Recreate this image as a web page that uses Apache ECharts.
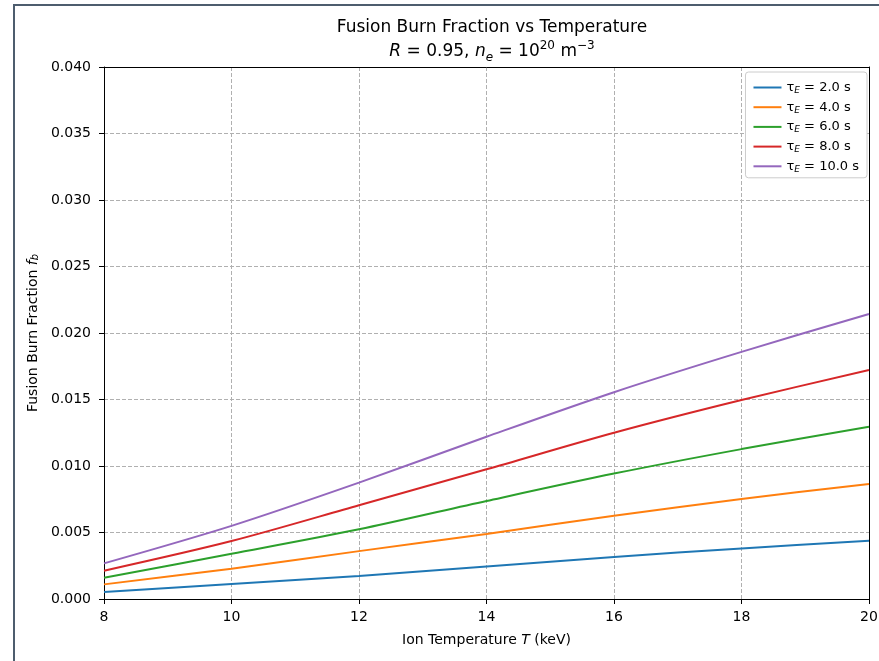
<!DOCTYPE html>
<html>
<head>
<meta charset="utf-8">
<script src="https://cdn.jsdelivr.net/npm/echarts@6/dist/echarts.min.js"></script>
<style>
html, body { margin: 0; padding: 0; background: #fff; }
#chart { width: 879px; height: 661px; }
</style>
</head>
<body>
<div id="chart"></div>
<script>
// ion temperature (keV) and burn fraction per confinement time
var temps = [8, 10, 12, 14, 16, 18, 20];
var tau2 = [0.00053, 0.00113, 0.00173, 0.00245, 0.00316, 0.00380, 0.00438];
var tau4 = [0.00110, 0.00228, 0.00360, 0.00489, 0.00626, 0.00752, 0.00865];
var tau6 = [0.00160, 0.00340, 0.00524, 0.00737, 0.00943, 0.01127, 0.01295];
var tau8 = [0.00213, 0.00436, 0.00705, 0.00975, 0.01250, 0.01496, 0.01722];
var tau10 = [0.00268, 0.00550, 0.00875, 0.01220, 0.01555, 0.01858, 0.02143];
var tauLabels = ['2.0', '4.0', '6.0', '8.0', '10.0'];
var colors = ['#1f77b4', '#ff7f0e', '#2ca02c', '#d62728', '#9467bd'];

var FONT = 'DejaVu Sans';
var chart = echarts.init(document.getElementById('chart'));

var allData = [tau2, tau4, tau6, tau8, tau10];
var series = [];
for (var i = 0; i < allData.length; i++) {
    var pts = [];
    for (var j = 0; j < temps.length; j++) {
        pts.push([temps[j], allData[i][j]]);
    }
    series.push({
        name: 'tau' + tauLabels[i],
        type: 'line',
        data: pts,
        smooth: 0.3,
        symbol: 'none',
        z: 5,
        lineStyle: { width: 2, color: colors[i] },
        itemStyle: { color: colors[i] }
    });
}

// box lines only (top / right spines)
var spine = {
    axisLine: { show: true, onZero: false, lineStyle: { color: '#000', width: 1 } },
    axisTick: { show: false },
    axisLabel: { show: false },
    splitLine: { show: false }
};

chart.setOption({
    animation: false,
    backgroundColor: '#fff',
    title: {
        left: 487,
        top: 11,
        textAlign: 'center',
        text: 'Fusion Burn Fraction vs Temperature\n{i|R} = 0.95, {i|n}{sub|e} = 10{sup|20} m{sup|−3}',
        textStyle: {
            fontFamily: FONT,
            fontSize: 17,
            fontWeight: 'normal',
            color: '#000',
            lineHeight: 24,
            rich: {
                i: { fontFamily: FONT, fontSize: 17, fontStyle: 'italic', color: '#000', lineHeight: 24 },
                sub: { fontFamily: FONT, fontSize: 12, fontStyle: 'italic', color: '#000', verticalAlign: 'bottom', lineHeight: 16 },
                sup: { fontFamily: FONT, fontSize: 12, color: '#000', verticalAlign: 'top', lineHeight: 12 }
            }
        }
    },
    legend: {
        orient: 'vertical',
        right: 12,
        top: 72,
        padding: [9, 8, 4, 8],
        icon: 'rect',
        itemWidth: 28,
        itemHeight: 2,
        itemGap: 5.7,
        backgroundColor: '#fff',
        borderColor: '#cccccc',
        borderWidth: 1,
        borderRadius: 3,
        data: series.map(function (s) { return s.name; }),
        formatter: function (name) {
            return '{t|τ}{sub|E}{t| = ' + name.replace('tau', '') + ' s}';
        },
        textStyle: {
            fontFamily: FONT,
            fontSize: 13,
            color: '#000',
            rich: {
                t: { fontFamily: FONT, fontSize: 13, color: '#000', lineHeight: 15 },
                sub: { fontFamily: FONT, fontSize: 9, fontStyle: 'italic', color: '#000', verticalAlign: 'bottom', lineHeight: 11 }
            }
        }
    },
    grid: {
        left: 104,
        right: 10,
        top: 67,
        bottom: 62,
        outerBoundsMode: 'none',
        containLabel: false
    },
    xAxis: [{
        type: 'value',
        min: 8,
        max: 20,
        interval: 2,
        name: 'Ion Temperature {i|T} (keV)',
        nameLocation: 'middle',
        nameGap: 34,
        nameTextStyle: {
            fontFamily: FONT, fontSize: 14, color: '#000',
            rich: { i: { fontFamily: FONT, fontSize: 14, fontStyle: 'italic', color: '#000' } }
        },
        axisLine: { show: true, onZero: false, lineStyle: { color: '#000', width: 1 } },
        axisTick: { show: true, length: 5, lineStyle: { color: '#000' } },
        axisLabel: { fontFamily: FONT, fontSize: 14, color: '#000', margin: 11 },
        splitLine: { show: true, lineStyle: { color: '#b0b0b0', type: [4, 2], width: 1 } }
    }, Object.assign({ type: 'value', min: 8, max: 20, position: 'top' }, spine)],
    yAxis: [{
        type: 'value',
        min: 0,
        max: 0.04,
        interval: 0.005,
        name: 'Fusion Burn Fraction {i|f}{sub|b}',
        nameLocation: 'middle',
        nameGap: 64,
        nameTextStyle: {
            fontFamily: FONT, fontSize: 14, color: '#000',
            rich: {
                i: { fontFamily: FONT, fontSize: 14, fontStyle: 'italic', color: '#000' },
                sub: { fontFamily: FONT, fontSize: 10, fontStyle: 'italic', color: '#000', verticalAlign: 'bottom' }
            }
        },
        axisLine: { show: true, onZero: false, lineStyle: { color: '#000', width: 1 } },
        axisTick: { show: true, length: 5, lineStyle: { color: '#000' } },
        axisLabel: {
            fontFamily: FONT, fontSize: 14, color: '#000', margin: 13,
            formatter: function (v) { return v.toFixed(3); }
        },
        splitLine: { show: true, lineStyle: { color: '#b0b0b0', type: [4, 2], width: 1 } }
    }, Object.assign({ type: 'value', min: 0, max: 0.04, position: 'right' }, spine)],
    graphic: [
        { type: 'line', shape: { x1: 13, y1: 5, x2: 879, y2: 5 }, style: { stroke: '#4d5d6e', lineWidth: 2 } },
        { type: 'line', shape: { x1: 14, y1: 4, x2: 14, y2: 661 }, style: { stroke: '#4d5d6e', lineWidth: 2 } }
    ],
    series: series
});
</script>
</body>
</html>
